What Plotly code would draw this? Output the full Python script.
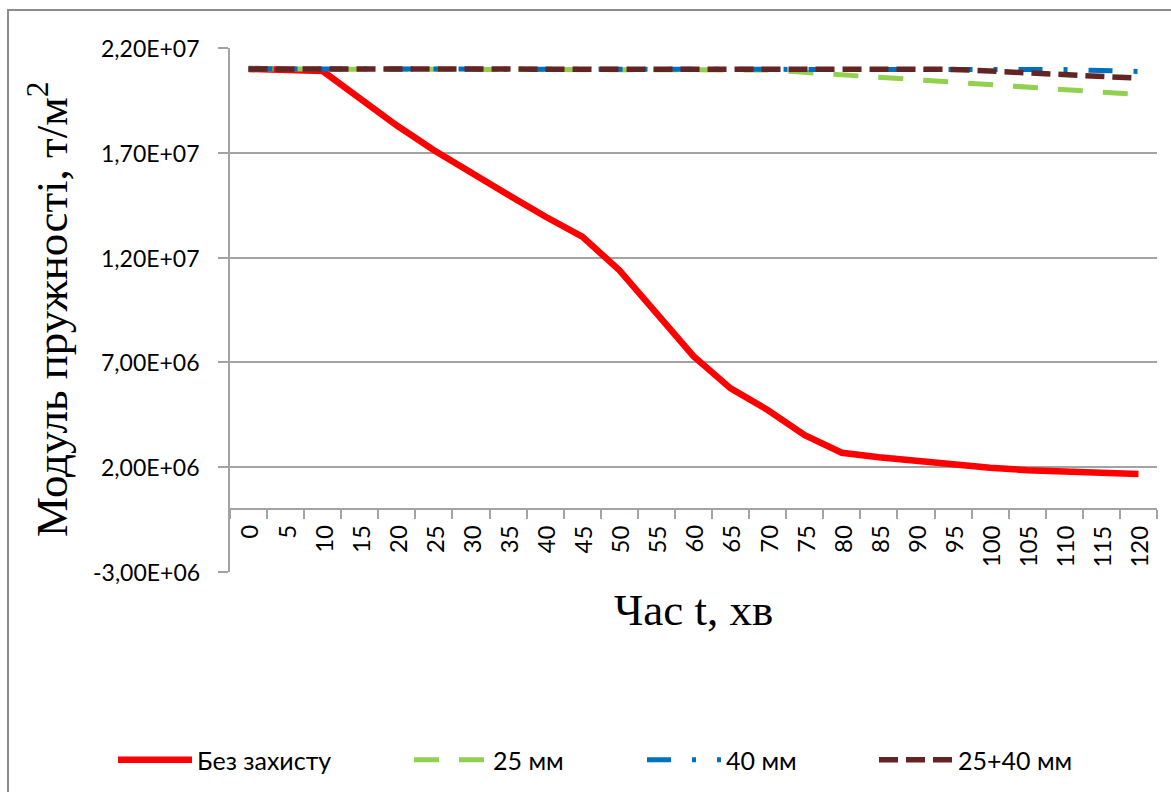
import plotly.graph_objects as go

# Time, minutes (category axis)
time_min = [0, 5, 10, 15, 20, 25, 30, 35, 40, 45, 50, 55, 60,
            65, 70, 75, 80, 85, 90, 95, 100, 105, 110, 115, 120]

# Elastic modulus, t/m^2
no_protection = [2.100e7, 2.098e7, 2.090e7, 1.960e7, 1.830e7, 1.712e7, 1.603e7,
                 1.500e7, 1.396e7, 1.300e7, 1.140e7, 9.350e6, 7.300e6, 5.760e6,
                 4.730e6, 3.530e6, 2.690e6, 2.470e6, 2.290e6, 2.130e6, 1.970e6,
                 1.860e6, 1.800e6, 1.750e6, 1.670e6]
prot_25 = [2.100e7, 2.100e7, 2.100e7, 2.100e7, 2.100e7, 2.100e7, 2.100e7,
           2.100e7, 2.100e7, 2.100e7, 2.100e7, 2.100e7, 2.100e7, 2.100e7,
           2.095e7, 2.084e7, 2.072e7, 2.060e7, 2.049e7, 2.037e7, 2.025e7,
           2.013e7, 2.002e7, 1.990e7, 1.978e7]
prot_40 = [2.100e7, 2.100e7, 2.100e7, 2.100e7, 2.100e7, 2.100e7, 2.100e7,
           2.100e7, 2.100e7, 2.100e7, 2.100e7, 2.100e7, 2.100e7, 2.100e7,
           2.100e7, 2.100e7, 2.100e7, 2.100e7, 2.100e7, 2.100e7, 2.100e7,
           2.100e7, 2.097e7, 2.093e7, 2.088e7]
prot_25_40 = [2.100e7, 2.100e7, 2.100e7, 2.100e7, 2.100e7, 2.100e7, 2.100e7,
              2.100e7, 2.100e7, 2.100e7, 2.100e7, 2.100e7, 2.100e7, 2.100e7,
              2.100e7, 2.100e7, 2.100e7, 2.100e7, 2.100e7, 2.098e7, 2.090e7,
              2.082e7, 2.074e7, 2.065e7, 2.056e7]

series_names = ["Без захисту", "25 мм", "40 мм", "25+40 мм"]

y_tick_vals = [-3.0e6, 2.0e6, 7.0e6, 1.2e7, 1.7e7, 2.2e7]
y_tick_text = ["-3,00E+06", "2,00E+06", "7,00E+06", "1,20E+07", "1,70E+07", "2,20E+07"]

x_title = "Час t, хв"
y_title = "Модуль пружності, т/м<sup>2</sup>"

W, H = 1171, 792
L, R, T, B = 230, 14, 48, 220
PW, PH = W - L - R, H - T - B

GRID = "#a3a3a3"
SANS = "Lato, Noto Sans, sans-serif"
TITLE_FONT = dict(family="Liberation Serif, Times New Roman, serif", size=45, color="#000000")


def px_x(px):
    return (px - L) / PW


def px_y(py):
    return (H - B - py) / PH


cats = [str(t) for t in time_min]

styles = [
    (no_protection, "#ff0000", 6.5, "solid", "legend"),
    (prot_25, "#92d050", 5, "25px,20px", "legend2"),
    (prot_40, "#0070c0", 5, "24px,21px,4px,21px", "legend3"),
    (prot_25_40, "#632523", 5.5, "19px,8px", "legend4"),
]

fig = go.Figure()
for name, (vals, color, width, dash, leg) in zip(series_names, styles):
    fig.add_trace(go.Scatter(
        x=cats, y=vals, mode="lines", name=name, legend=leg,
        line=dict(color=color, width=width, dash=dash),
    ))

# one legend box per series, laid out in a row under the chart
legend_left_px = [113, 409, 642, 874]
legend_common = dict(
    orientation="h", yanchor="middle", y=px_y(760), xanchor="left",
    font=dict(family=SANS, size=25, color="#000000"),
    bgcolor="rgba(0,0,0,0)", borderwidth=0, itemwidth=74,
)
legends = {}
for i, lx in enumerate(legend_left_px):
    key = "legend" if i == 0 else f"legend{i + 1}"
    legends[key] = dict(legend_common, x=px_x(lx))

annotations = []
# value-axis labels, set a little apart from the tick marks
for v, txt in zip(y_tick_vals, y_tick_text):
    annotations.append(dict(
        xref="paper", yref="y", x=px_x(202), y=v, text=txt, showarrow=False,
        xanchor="right", yanchor="middle",
        font=dict(family=SANS, size=23, color="#000000"),
    ))
# category labels, rotated, hanging under the axis that crosses at zero
# (x given as the category's position index)
for idx, c in enumerate(cats):
    annotations.append(dict(
        xref="x", yref="y", x=idx, y=0, text=c, showarrow=False, textangle=-90,
        xanchor="center", yanchor="top", yshift=-14,
        font=dict(family=SANS, size=24, color="#000000"),
    ))
annotations.append(dict(
    xref="paper", yref="paper", x=px_x(693), y=px_y(610), text=x_title,
    showarrow=False, xanchor="center", yanchor="middle", font=TITLE_FONT,
))
annotations.append(dict(
    xref="paper", yref="paper", x=px_x(48), y=0.5, text=y_title, textangle=-90,
    showarrow=False, xanchor="center", yanchor="middle", font=TITLE_FONT,
))

zero_pos = (0 - y_tick_vals[0]) / (y_tick_vals[-1] - y_tick_vals[0])

fig.update_layout(
    width=W, height=H,
    margin=dict(l=L, r=R, t=T, b=B, autoexpand=False),
    paper_bgcolor="white", plot_bgcolor="white",
    showlegend=True,
    **legends,
    annotations=annotations,
    xaxis=dict(
        type="category", tickson="boundaries", range=[-0.5, len(cats) - 0.5],
        anchor="free", position=zero_pos,
        showline=True, linecolor=GRID, linewidth=1.5,
        ticks="outside", ticklen=9, tickwidth=1.5, tickcolor=GRID,
        showticklabels=False, showgrid=False, zeroline=False,
    ),
    yaxis=dict(
        range=[y_tick_vals[0], y_tick_vals[-1]],
        tickvals=y_tick_vals,
        showline=True, linecolor=GRID, linewidth=1.5,
        ticks="outside", ticklen=10, tickwidth=1.5, tickcolor=GRID,
        showticklabels=False,
        showgrid=True, gridcolor=GRID, gridwidth=1.5, zeroline=False,
    ),
    shapes=[
        # outer chart frame
        dict(type="rect", xref="paper", yref="paper",
             x0=px_x(8), x1=px_x(W + 20), y0=px_y(H + 20), y1=px_y(10),
             line=dict(color="#8c8c8c", width=2), fillcolor="rgba(0,0,0,0)", layer="below"),
    ],
)

fig.write_html("out.html")
